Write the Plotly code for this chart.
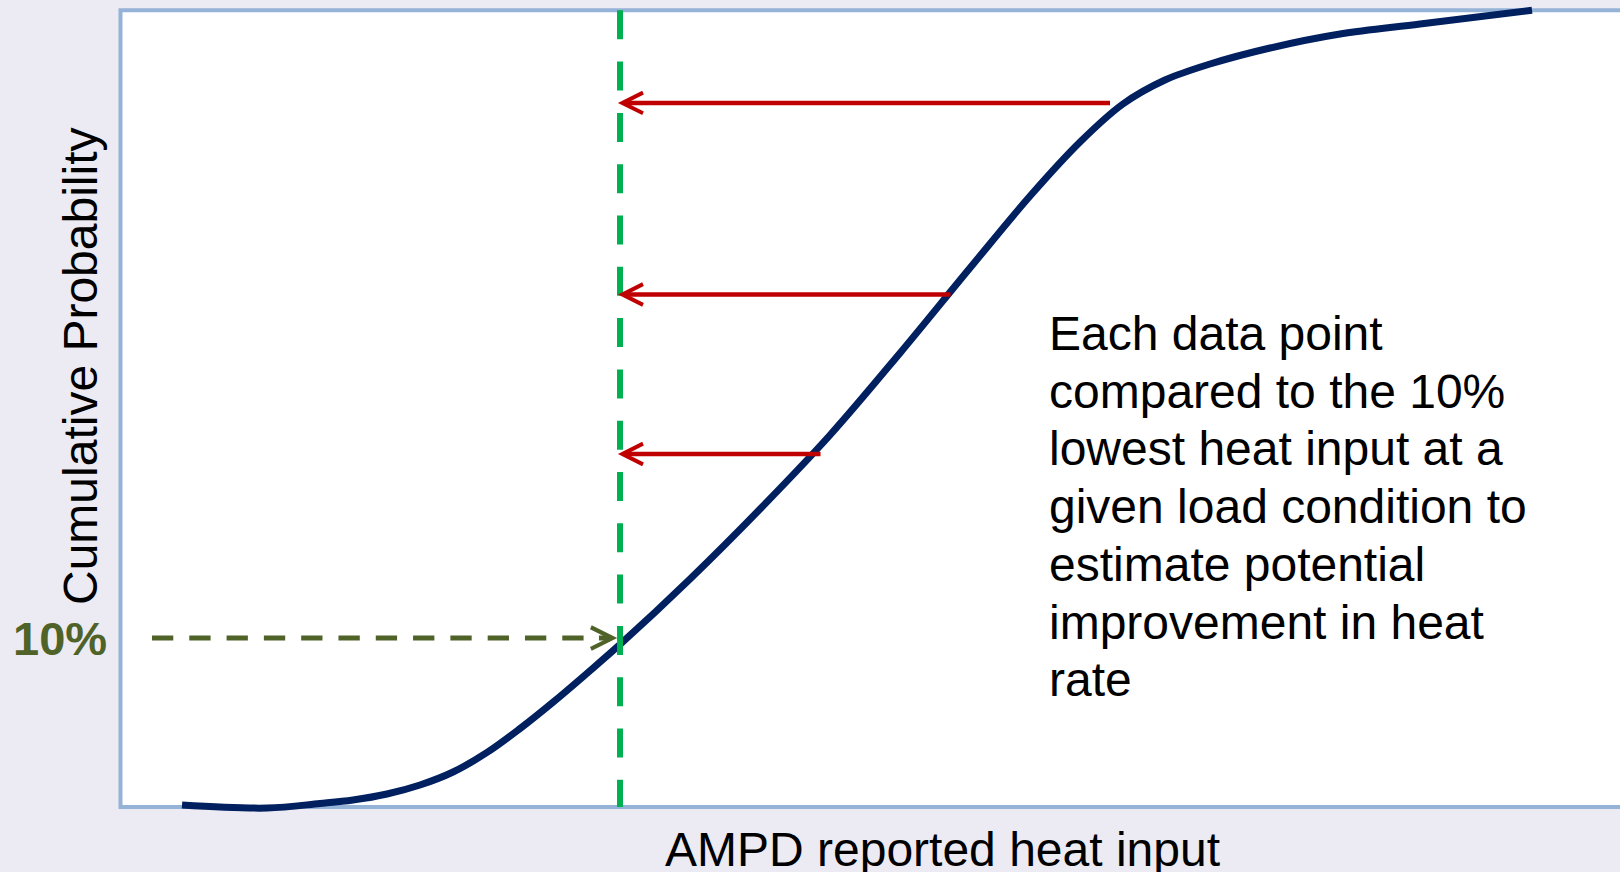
import plotly.graph_objects as go

# ---------------- data (schematic cumulative distribution) ----------------
heat_input = [4.36, 10.38, 14.13, 16.47, 18.88, 21.22, 23.56, 25.97, 28.30, 30.64,
              33.05, 35.39, 40.35, 45.31, 50.27, 55.23, 60.18, 64.44, 67.98, 71.02,
              74.00, 77.19, 81.44, 86.40, 92.07, 100.0]
cum_prob = [0.0025, -0.0013, 0.0044, 0.0088, 0.0163, 0.0276, 0.0439, 0.0685, 0.0984, 0.1315,
            0.1678, 0.2040, 0.2862, 0.3740, 0.4669, 0.5699, 0.6765, 0.7669, 0.8347, 0.8824,
            0.9125, 0.9326, 0.9527, 0.9703, 0.9828, 1.0]

p10_x = 35.39          # heat input at the 10% level
p10_y = 0.212          # position of the 10% marker
p10_label = "10%"
p10_start_x = 2.23     # start of the dashed 10% pointer

arrow_y = [0.8837, 0.6433, 0.4431]          # example data points
arrow_from_x = [70.21, 58.91, 49.70]

x_title = "AMPD reported heat input"
y_title = "Cumulative Probability"
note_lines = ["Each data point", "compared to the 10%", "lowest heat input at a",
              "given load condition to", "estimate potential",
              "improvement in heat", "rate"]

# ---------------- styling / layout ----------------
W, H = 1620, 872
X0_PX, PX_PER_X = 120.5, 14.115
Y0_PX, PX_PER_Y = 807.0, 796.7
FONT = "Liberation Sans, Arial, sans-serif"
BG = "#ECEAF2"
FRAME = "#95B3D7"
NAVY = "#002060"
GREEN = "#00B050"
RED = "#C00000"
OLIVE = "#4F6228"

xr = [(0 - X0_PX) / PX_PER_X, (W - X0_PX) / PX_PER_X]
yr = [(Y0_PX - H) / PX_PER_Y, Y0_PX / PX_PER_Y]

def px(xp):
    return xp / W

def py(yp):
    return 1 - yp / H

fig = go.Figure()

# main curve
fig.add_trace(go.Scatter(x=heat_input, y=cum_prob, mode="lines",
                         line=dict(color=NAVY, width=7, shape="spline", smoothing=1.0),
                         hoverinfo="skip", showlegend=False))
# vertical 10% line
fig.add_trace(go.Scatter(x=[p10_x, p10_x], y=[1, 0], mode="lines",
                         line=dict(color=GREEN, width=6, dash="29px,22.3px"),
                         hoverinfo="skip", showlegend=False))
# dashed olive pointer shaft
fig.add_trace(go.Scatter(x=[p10_start_x, p10_x - 2.3], y=[p10_y, p10_y], mode="lines",
                         line=dict(color=OLIVE, width=5, dash="21.3px,16px"),
                         hoverinfo="skip", showlegend=False))

annotations = []
# olive arrow head
annotations.append(dict(x=p10_x - 0.2, y=p10_y, ax=p10_x - 1.6, ay=p10_y,
                        xref="x", yref="y", axref="x", ayref="y", text="",
                        font=dict(size=1),
                        showarrow=True, arrowhead=5, arrowwidth=5, arrowsize=0.85,
                        arrowcolor=OLIVE, standoff=0))
# red arrows
for yv, xv in zip(arrow_y, arrow_from_x):
    annotations.append(dict(x=p10_x - 0.15, y=yv, ax=xv, ay=yv,
                            xref="x", yref="y", axref="x", ayref="y", text="",
                            font=dict(size=1),
                            showarrow=True, arrowhead=5, arrowwidth=4.5, arrowsize=0.9,
                            arrowcolor=RED, standoff=0))
# 10% label
annotations.append(dict(x=px(109), y=py(638), xref="paper", yref="paper",
                        xanchor="right", yanchor="middle", showarrow=False,
                        text="<b>%s</b>" % p10_label,
                        font=dict(family=FONT, size=47, color=OLIVE)))
# axis titles
annotations.append(dict(x=px(942), y=py(849), xref="paper", yref="paper",
                        xanchor="center", yanchor="middle", showarrow=False,
                        text=x_title, font=dict(family=FONT, size=48, color="black")))
annotations.append(dict(x=px(80), y=py(366), xref="paper", yref="paper",
                        xanchor="center", yanchor="middle", showarrow=False, textangle=-90,
                        text=y_title, font=dict(family=FONT, size=48, color="black")))
# note text
for i, line in enumerate(note_lines):
    annotations.append(dict(x=px(1047), y=py(333.5 + 57.7 * i), xref="paper", yref="paper",
                            xanchor="left", yanchor="middle", showarrow=False,
                            text=line, font=dict(family=FONT, size=48, color="black")))

fig.update_layout(
    width=W, height=H, autosize=False,
    margin=dict(l=0, r=0, t=0, b=0, pad=0),
    paper_bgcolor=BG, plot_bgcolor=BG,
    showlegend=False, hovermode=False,
    xaxis=dict(range=xr, visible=False, fixedrange=True),
    yaxis=dict(range=yr, visible=False, fixedrange=True),
    shapes=[dict(type="rect", xref="x", yref="y", x0=0, x1=xr[1] + 20, y0=0, y1=1,
                 fillcolor="white", line=dict(color=FRAME, width=4), layer="below")],
    annotations=annotations,
)

fig.write_html("out.html", config={"displayModeBar": False})
